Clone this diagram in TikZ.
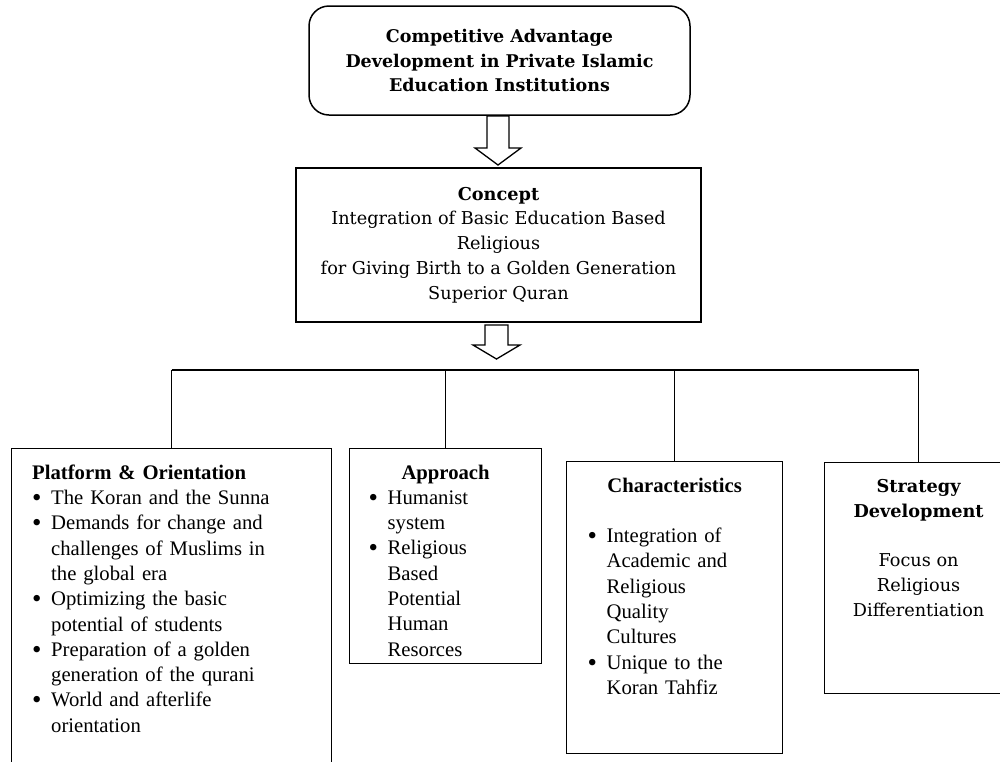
\documentclass[tikz,border=0pt]{standalone}
\usepackage{fontspec}
\setmainfont{Liberation Serif}
\newfontfamily\cambria{DejaVu Serif}
\usetikzlibrary{calc}
\newcommand\bul{\par\noindent\hangindent=19pt\hangafter=1\makebox[19pt][l]{\raisebox{-0.2ex}{\scalebox{1.3}{\textbullet}}}\ignorespaces}
\newcommand\blockarr[5]{\draw[fat] (#1-#2,#3) -- (#1+#2,#3) -- (#1+#2,#4) -- (#1+#2+12,#4) -- (#1,#5) -- (#1-#2-12,#4) -- (#1-#2,#4) -- cycle;}

\begin{document}
\begin{tikzpicture}[x=1pt,y=1pt,
  box/.style={draw,line width=1.2pt,inner sep=0pt},
  tnr/.style={inner sep=0pt,font=\fontsize{20.7}{25.3}\selectfont},
  cam/.style={inner sep=0pt,align=center,font=\cambria\fontsize{17.7}{24.8}\selectfont},
  bus/.style={line width=2.6pt},
  drop/.style={line width=1.2pt},
  fat/.style={draw,line width=1.3pt}]
\useasboundingbox (0,0) rectangle (1000,-761);
\node[box,rounded corners=20pt,line width=1.5pt,minimum width=381,minimum height=109,align=center,
  font=\cambria\bfseries\fontsize{17.5}{24.5}\selectfont] (adv) at (499.5,-60.5)
  {Competitive Advantage\\Development in Private Islamic\\Education Institutions};
\node[box,cam,minimum width=405,minimum height=154] (concept) at (498.5,-245)
  {{\bfseries Concept}\\Integration of Basic Education Based\\Religious\\for Giving Birth to a Golden Generation\\Superior Quran};
\blockarr{498}{11}{-116}{-148}{-165}
\blockarr{496.5}{11.5}{-325}{-345}{-359}
\coordinate (busy) at (0,-370);
\node[box,minimum width=320,minimum height=330,anchor=north west] (plat) at (11,-448) {};
\node[box,minimum width=192,minimum height=215,anchor=north west] (appr) at (349,-448) {};
\node[box,minimum width=216,minimum height=292,anchor=north west] (chara) at (566,-461) {};
\node[box,minimum width=188,minimum height=231,anchor=north west] (strat) at (824,-462) {};
\draw[bus] (plat.north |- busy) -- (strat.north |- busy);
\foreach \b in {plat,appr,chara,strat}
  \draw[drop] (\b.north) -- (\b.north |- busy);
\node[tnr,anchor=north west,text width=300,align=left] (platT) at ([shift={(21,-16.5)}]plat.north west)
  {{\bfseries Platform \& Orientation}
  \bul The Koran and the Sunna
  \bul Demands for change and\newline challenges of Muslims in\newline the global era
  \bul Optimizing the basic\newline potential of students
  \bul Preparation of a golden\newline generation of the qurani
  \bul World and afterlife\newline orientation\par};
\node[tnr,anchor=north,text width=154,align=left] (apprT) at ([yshift=-16.5]appr.north)
  {{\centering\bfseries Approach\par}
  \bul Humanist\newline system
  \bul Religious\newline Based\newline Potential\newline Human\newline Resorces\par};
\node[tnr,anchor=north,text width=174,align=left] (charaT) at ([yshift=-16.5]chara.north)
  {{\centering\bfseries Characteristics\par}\vskip25.3pt
  \bul Integration of\newline Academic and\newline Religious\newline Quality\newline Cultures
  \bul Unique to the\newline Koran Tahfiz\par};
\node[cam,anchor=north] (stratT) at ([yshift=-17]strat.north)
  {{\bfseries Strategy}\\{\bfseries Development}\\[24.8pt]Focus on\\Religious\\Differentiation};
\end{tikzpicture}
\end{document}
